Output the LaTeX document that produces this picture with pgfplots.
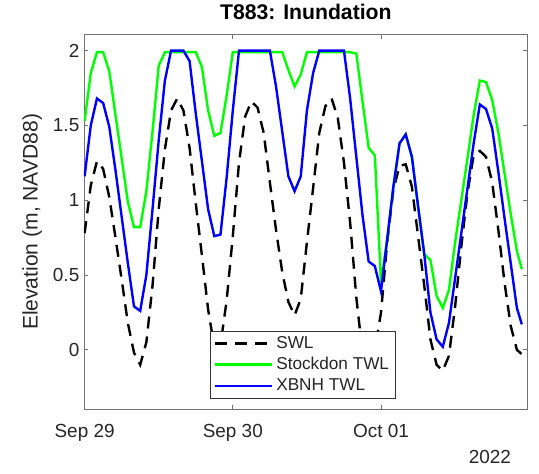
\documentclass[border=0pt]{standalone}
\usepackage{fontspec}
\setmainfont{Liberation Sans}
\usepackage{pgfplots}
\usepackage{pgfplotstable}
\pgfplotsset{compat=1.18}

\definecolor{axgray}{rgb}{0.15,0.15,0.15}
\definecolor{mgreen}{rgb}{0,1,0}
\definecolor{mblue}{rgb}{0,0,1}

% hours since Sep 29 00:00
\pgfplotstableread{
h swl stock xbnh
0 0.78 1.53 1.16
1 1.10 1.85 1.50
2 1.26 1.99 1.68
3 1.21 1.99 1.65
4 1.02 1.86 1.49
5 0.75 1.57 1.20
6 0.47 1.28 0.89
7 0.18 0.99 0.58
8 -0.02 0.82 0.29
9 -0.10 0.82 0.26
10 0.05 1.06 0.50
11 0.43 1.46 0.94
12 0.94 1.90 1.40
13 1.34 1.99 1.80
14 1.60 1.99 2.00
15 1.68 1.99 2.00
16 1.60 1.99 2.00
17 1.35 1.99 1.93
18 0.98 1.99 1.58
19 0.63 1.89 1.26
20 0.27 1.60 0.94
21 0.02 1.43 0.76
22 0.03 1.45 0.77
23 0.33 1.70 1.15
24 0.76 1.99 1.60
25 1.25 1.99 2.00
26 1.56 1.99 2.00
27 1.66 1.99 2.00
28 1.62 1.99 2.00
29 1.45 1.99 2.00
30 1.12 1.99 2.00
31 0.80 1.99 1.76
32 0.52 1.99 1.46
33 0.32 1.87 1.16
34 0.23 1.76 1.06
35 0.34 1.84 1.16
36 0.72 1.99 1.60
37 1.08 1.99 1.85
38 1.45 1.99 2.00
39 1.63 1.99 2.00
40 1.68 1.99 2.00
41 1.55 1.99 2.00
42 1.25 1.99 2.00
43 0.85 1.99 1.68
44 0.35 1.98 1.29
45 -0.02 1.66 0.90
46 -0.12 1.35 0.59
47 0.00 1.30 0.56
48 0.25 0.45 0.39
49 0.72 0.74 0.74
50 1.07 1.09 1.09
51 1.23 1.38 1.38
52 1.24 1.44 1.44
53 1.09 1.29 1.29
54 0.76 0.96 0.96
55 0.43 0.64 0.64
56 0.07 0.60 0.25
57 -0.10 0.36 0.07
58 -0.14 0.28 0.02
59 -0.04 0.40 0.18
60 0.29 0.72 0.48
61 0.69 1.00 0.78
62 1.05 1.28 1.08
63 1.30 1.57 1.38
64 1.33 1.80 1.64
65 1.29 1.79 1.61
66 1.12 1.67 1.48
67 0.80 1.45 1.19
68 0.45 1.18 0.88
69 0.16 0.91 0.58
70 0.00 0.66 0.28
70.8 -0.03 0.54 0.17
}\twl

\begin{document}
\begin{tikzpicture}
\begin{axis}[
  width=332.8pt, height=281.6pt, scale only axis,
  xmin=-0.1, xmax=71.75, ymin=-0.4, ymax=2.11,
  xtick={0,24,48}, xticklabels={Sep 29,Sep 30,Oct 01},
  ytick={0,0.5,1,1.5,2}, yticklabels={0,0.5,1,1.5,2},
  tick align=inside, major tick length=3.3pt,
  axis line style={draw=black!55, line width=0.6pt},
  every tick/.style={draw=black!55, line width=0.6pt},
  tick label style={font=\fontsize{14.2}{17}\selectfont, text=axgray},
  xticklabel style={anchor=base, yshift=-21pt},
  title={T883: Inundation},
  title style={at={(0.5,1.017)}, anchor=base, font=\bfseries\fontsize{15.9}{19}\selectfont},
  ylabel={Elevation (m, NAVD88)},
  ylabel style={at={(axis description cs:-0.117,0.5)}, anchor=center,
    font=\fontsize{15.8}{19}\selectfont, text=axgray},
  legend style={at={(0.283,0.21)}, anchor=north west, draw=black!80,
    line width=0.5pt, font=\fontsize{12.9}{15}\selectfont, text=axgray,
    row sep=1.2pt},
  legend cell align=left,
  legend image code/.code={\draw[#1] (0pt,0pt) -- (43pt,0pt);},
]
\addplot[black, line width=1.8pt, dash pattern=on 9pt off 6pt] table[x=h, y=swl] {\twl};
\addplot[mgreen, line width=1.8pt] table[x=h, y=stock] {\twl};
\addplot[mblue, line width=1.8pt] table[x=h, y=xbnh] {\twl};
\legend{SWL, Stockdon TWL, XBNH TWL}
\coordinate (bbsw) at (rel axis cs:-0.1893,-0.169);
\coordinate (bbne) at (rel axis cs:1.0255,1.0799);
\coordinate (yr) at (rel axis cs:0.915,-0.1257);
\end{axis}
\path (bbsw) rectangle (bbne);
\node[font=\fontsize{14.2}{17}\selectfont, text=axgray, anchor=center] at (yr) {2022};
\end{tikzpicture}
\end{document}
